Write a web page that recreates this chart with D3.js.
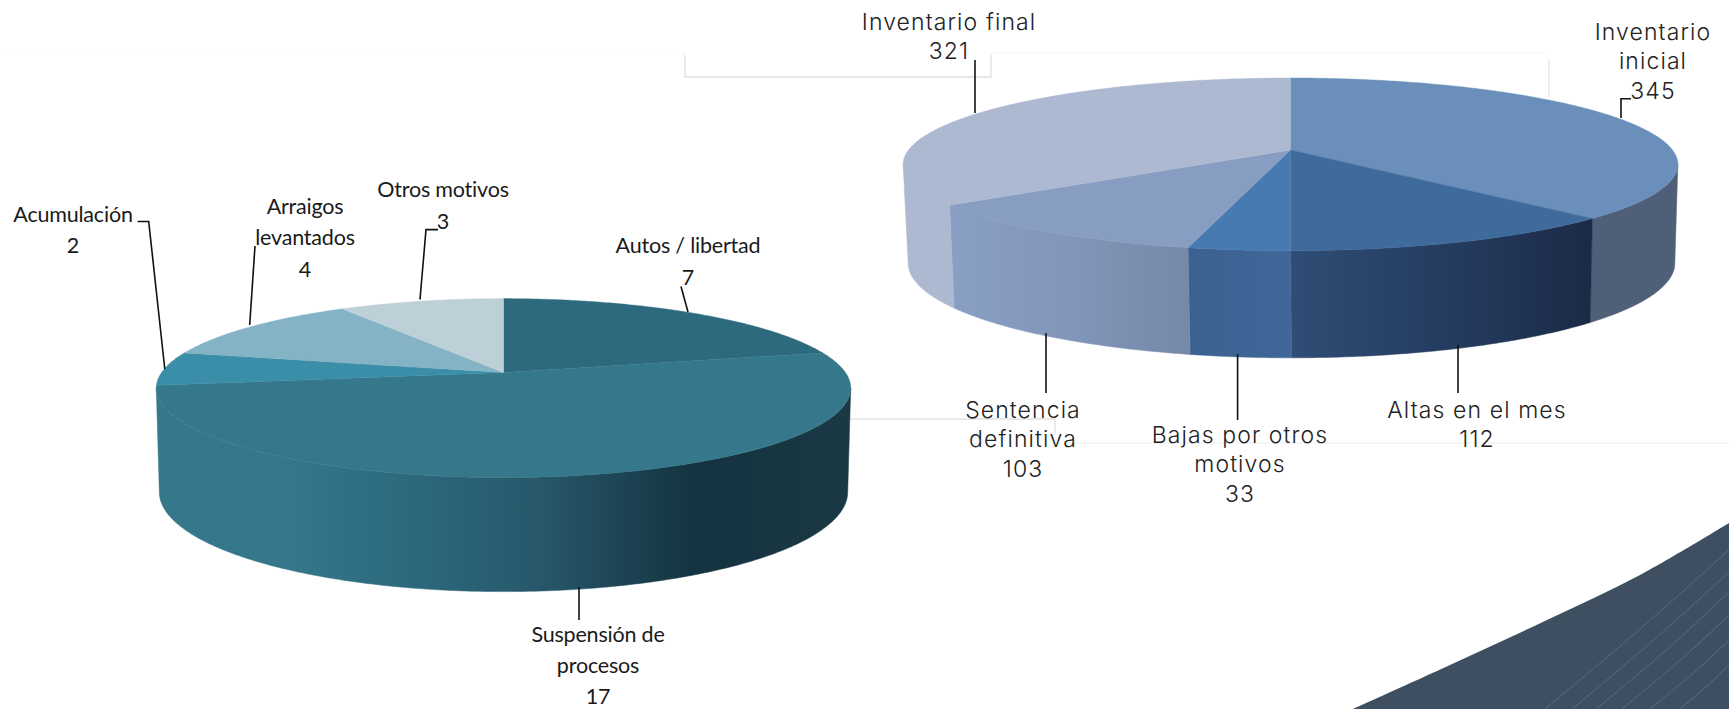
<!DOCTYPE html>
<html><head><meta charset="utf-8">
<script src="https://cdn.jsdelivr.net/npm/d3@7/dist/d3.min.js"></script>
<style>html,body{margin:0;padding:0;background:#fff;overflow:hidden}svg{display:block}</style>
</head><body><svg id="c" width="1729" height="709"></svg>
<script>
// ---- data ----
const leftCategories = ["Autos / libertad","Suspensión de procesos","Acumulación","Arraigos levantados","Otros motivos"];
const leftValues = [7,17,2,4,3];
const leftTopColors = ["#2d6a7d","#35788b","#3a8ea8","#85b3c6","#bdd0d8"];
const rightCategories = ["Inventario inicial","Altas en el mes","Bajas por otros motivos","Sentencia definitiva","Inventario final"];
const rightValues = [345,112,33,103,321];
const rightTopColors = ["#6b8fbb","#3f6a9c","#477ab0","#879dc1","#adb9d1"];

// side shading: [fraction along the pie's width, colour]
const leftSideStops = [[[0,"#347a8f"],[1,"#347a8f"]],
  [[0,"#35788b"],[0.2,"#34768a"],[0.35,"#2d6a7e"],[0.55,"#27586b"],[0.78,"#14323f"],[1,"#1a3945"]],
  [[0,"#3a8ea8"],[1,"#3a8ea8"]],[[0,"#85b3c6"],[1,"#85b3c6"]],[[0,"#bdd0d8"],[1,"#bdd0d8"]]];
const rightSideStops = [[[0,"#4f5f78"],[1,"#4f5f78"]],
  [[0.5,"#2f4d75"],[0.7,"#253c60"],[0.89,"#1b2a46"]],
  [[0.37,"#3b6190"],[0.5,"#41679a"]],
  [[0.05,"#899fc4"],[0.2,"#8297ba"],[0.37,"#7688a8"]],
  [[0,"#adb9d1"],[1,"#adb9d1"]]];

// label lines: [text lines], centre and first baseline come from the layout tables
const leftLabelLines = [["Autos / libertad","7"],["Suspensión de","procesos","17"],["Acumulación","2"],["Arraigos","levantados","4"],["Otros motivos","3"]];
const leftLabelAnchor = [[688,253],[598,642],[73,221.5],[305,213.5],[443,197]];
const leftLabelPitch = [31.7,31,31.7,31.7,31.7];
const leftLeaders = [[[681,286.5],[688,312]],[[579,587],[579,620]],[[137.6,221.5],[148.7,221.5],[164.8,369]],[[255,246],[249.7,325]],[[438,229.6],[426,229.6],[420,299.5]]];
const rightLabelLines = [["Inventario","inicial","345"],["Altas en el mes","112"],["Bajas por otros","motivos","33"],["Sentencia","definitiva","103"],["Inventario final","321"]];
const rightLabelAnchor = [[1653,40],[1477,418],[1240,443],[1023,418],[949,30]];
const rightLabelPitch = [29.3,29.3,29.3,29.3,29.3];
const rightLeaders = [[[1631,98.7],[1621,98.7],[1621,118]],[[1458,345],[1458,393]],[[1237.6,354],[1237.6,420]],[[1046,333],[1046,393]],[[975,60],[975,113]]];

const ruleSegments = [
 {pts:[[685,55],[685,77],[991,77],[991,55]],c:"#e0e0e0"},
 {pts:[[1549,60],[1549,97]],c:"#e4e4e4"},
 {pts:[[850,419],[1055,419],[1055,434]],c:"#e2e2e2"},
 {pts:[[1075,443],[1729,443]],c:"#f3f3f3"},
 {pts:[[0,53],[685,53]],c:"#fbfbfb"},
 {pts:[[991,53],[1549,53]],c:"#f8f8f8"}];
const cornerEdge = [[1353,709],[1450,665],[1547,620],[1640,575],[1729,523]];
const cornerStripes = [
 [[1545,709],[1640,630],[1729,550]],[[1572,709],[1655,640],[1729,572]],[[1596,709],[1670,648],[1729,592]],
 [[1622,709],[1685,657],[1729,615]],[[1650,709],[1700,668],[1729,640]],[[1680,709],[1710,684],[1729,665]]];

const svg = d3.select("#c");
const defs = svg.append("defs");

svg.selectAll("path.rule").data(ruleSegments).join("path").attr("class","rule")
  .attr("d",d=>d3.line()(d.pts)).attr("fill","none").attr("stroke",d=>d.c).attr("stroke-width",1.3);

const corner = svg.append("g");
corner.append("path").attr("d",d3.line().curve(d3.curveCatmullRom)(cornerEdge)+"L1729,709L1353,709Z").attr("fill","#3d4f60");
corner.selectAll("path.s").data(cornerStripes).join("path").attr("class","s")
  .attr("d",d3.line().curve(d3.curveBasis)).attr("fill","none").attr("stroke","#516476").attr("stroke-width",1.2);

function drawPie(o){
  const g = svg.append("g");
  const arcs = d3.pie().sort(null)(o.values);
  // top and bottom rims of the perspective cylinder, as linear scales on projected unit coordinates
  const rims = o.rims.map(r=>({x:d3.scaleLinear([-1,1],[r.cx-r.rx,r.cx+r.rx]),y:d3.scaleLinear([-1,1],[r.cy-r.ry,r.cy+r.ry])}));
  const pt=(rim,a)=>{const u=Math.sin(a),v=-Math.cos(a),w=1-o.p*v;return [rim.x(u/w),rim.y(v/w)];};
  const visA=Math.PI-Math.acos(o.p), visB=Math.PI+Math.acos(o.p); // silhouette tangents
  const line=d3.line();
  const samples=(a,b)=>{const n=Math.max(2,Math.ceil((b-a)/0.01));return d3.range(n+1).map(i=>a+(b-a)*i/n);};
  const grad=d3.scaleLinear([0,1],[o.rims[1].cx-o.rims[1].rx*1.02,o.rims[1].cx+o.rims[1].rx*1.02]);
  arcs.forEach((d,i)=>{
    const a=Math.max(d.startAngle,visA), b=Math.min(d.endAngle,visB);
    if(b<=a) return;
    const id=o.id+"s"+i;
    const lg=defs.append("linearGradient").attr("id",id).attr("gradientUnits","userSpaceOnUse")
      .attr("x1",grad(0)).attr("x2",grad(1)).attr("y1",0).attr("y2",0);
    o.stops[i].forEach(s=>lg.append("stop").attr("offset",s[0]).attr("stop-color",s[1]));
    const ss=samples(a,b);
    const top=ss.map(t=>pt(rims[0],t)), bot=ss.map(t=>pt(rims[1],t)).reverse();
    g.append("path").attr("d",line(top.concat(bot))+"Z").attr("fill",`url(#${id})`).attr("stroke",`url(#${id})`).attr("stroke-width",0.5);
  });
  arcs.forEach((d,i)=>{
    const rim=samples(d.startAngle,d.endAngle).map(t=>pt(rims[0],t));
    g.append("path").attr("d",line([[rims[0].x(0),rims[0].y(0)],...rim])+"Z")
      .attr("fill",o.tops[i]).attr("stroke",o.tops[i]).attr("stroke-width",0.4);
  });
  const lead=svg.append("g");
  o.leaders.forEach(l=>lead.append("path").attr("d",line(l)).attr("fill","none").attr("stroke","#111").attr("stroke-width",1.6));
  const txt=svg.append("g").attr("text-anchor","middle").attr("fill",o.ink)
    .style("font-family",o.font).style("font-size",o.size+"px").style("font-weight",o.weight)
    .style("letter-spacing",o.track+"px").style("font-variant-ligatures","none");
  o.labels.forEach((ls,i)=>{
    ls.forEach((s,j)=>txt.append("text").attr("x",o.anchor[i][0]).attr("y",o.anchor[i][1]+j*o.pitch[i]).text(s));
  });
}

drawPie({id:"L",values:leftValues,tops:leftTopColors,stops:leftSideStops,p:0.173,
  rims:[{cx:503.5,cy:372.6,rx:342,ry:86.8},{cx:503.5,cy:474.8,rx:339,ry:96.6}],
  labels:leftLabelLines,anchor:leftLabelAnchor,leaders:leftLeaders,font:"Lato",size:21.5,weight:400,track:-0.2,pitch:leftLabelPitch,ink:"#1a1a1a"});
drawPie({id:"R",values:rightValues,tops:rightTopColors,stops:rightSideStops,p:0.166,
  rims:[{cx:1290.5,cy:150,rx:382,ry:84},{cx:1291.5,cy:247.5,rx:378,ry:92}],
  labels:rightLabelLines,anchor:rightLabelAnchor,leaders:rightLeaders,font:"Inter",size:23,weight:300,track:1.1,pitch:rightLabelPitch,ink:"#222"});
</script></body></html>
